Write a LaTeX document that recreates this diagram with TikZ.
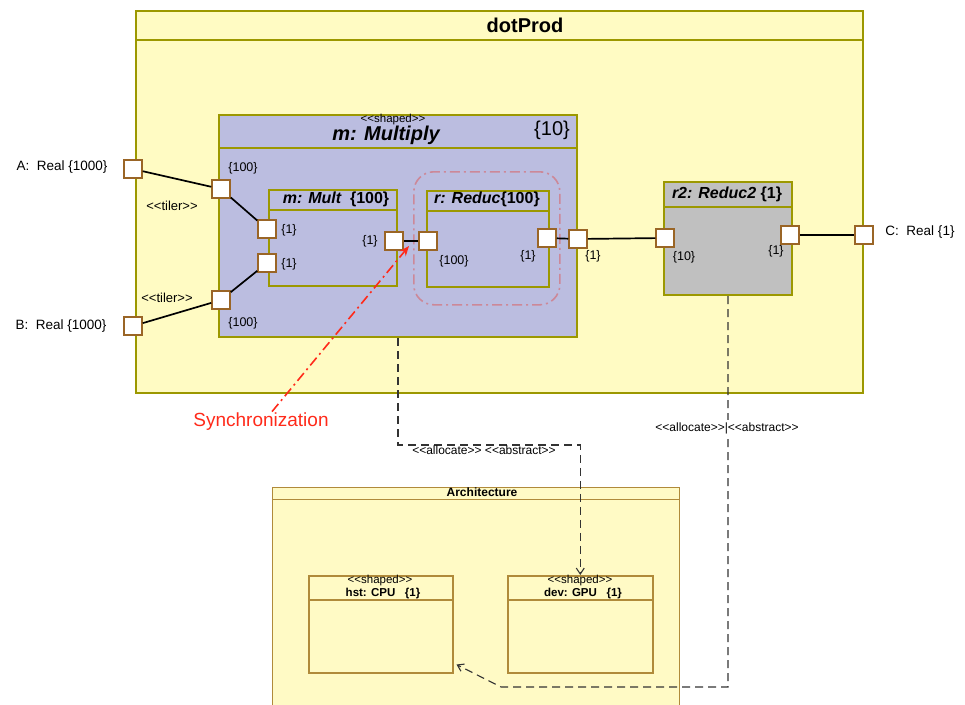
\documentclass[tikz,border=0pt]{standalone}
\usepackage{fontspec}
\setmainfont{Liberation Sans}
\usetikzlibrary{arrows.meta}

\definecolor{boxline}{HTML}{9C9800}
\definecolor{dotfill}{HTML}{FFFBC3}
\definecolor{mulfill}{HTML}{BBBDE0}
\definecolor{grayfill}{HTML}{C0C0C0}
\definecolor{portline}{HTML}{9A6526}
\definecolor{archline}{HTML}{B08A3A}
\definecolor{archfill}{HTML}{FFFAC5}
\definecolor{syncred}{HTML}{FF2A1A}
\definecolor{groupline}{HTML}{CC8898}

\newcommand{\stereo}[1]{<{}<#1>{}>}

\begin{document}
\begin{tikzpicture}[x=1pt, y=-1pt, >={Straight Barb[length=6pt,width=8pt]},
    part/.style={draw=boxline, line width=2pt, anchor=north west, inner sep=0pt},
    unit/.style={draw=archline, line width=1.2pt, fill=archfill, anchor=north west, inner sep=0pt},
    port/.style={draw=portline, fill=white, line width=2pt, minimum size=17.5pt, inner sep=0pt},
    wire/.style={line width=1.7pt},
    lbl/.style={inner sep=0pt, font=\fontsize{12.5}{14}\selectfont},
    alloc/.style={->, draw=black!80, dash pattern=on 8pt off 5pt, line width=1.1pt}]
    \useasboundingbox (0,0) rectangle (965,704);
    \clip (0,0) rectangle (965,704);

    % application
    \node[part, fill=dotfill, minimum width=727pt, minimum height=382pt] (dot) at (135,10) {};
    \node[part, fill=mulfill, minimum width=358pt, minimum height=222pt] (mul) at (218,114) {};
    \node[draw=groupline, line width=1.6pt, dash pattern=on 10pt off 4pt on 2pt off 4pt,
          rounded corners=20pt, anchor=north west, minimum width=146pt, minimum height=133pt] (grp) at (413,171) {};
    \node[part, minimum width=128pt, minimum height=96pt] (mult) at (268,189) {};
    \node[part, minimum width=122pt, minimum height=96pt] (red) at (426,190) {};
    \node[part, fill=grayfill, minimum width=128pt, minimum height=113pt] (red2) at (663,181) {};
    \foreach \b/\h in {dot/30, mul/34, mult/21, red/21, red2/26}
        \draw[boxline, line width=2pt] ([yshift=-\h pt]\b.north west) -- ([yshift=-\h pt]\b.north east);

    \node[font=\fontsize{20}{22}\selectfont\bfseries] (tdot) at (525,25) {dotProd};
    \node[lbl, font=\fontsize{11.5}{13}\selectfont] (tshm) at (393,119.5) {\stereo{shaped}};
    \node[font=\fontsize{20}{22}\selectfont\bfseries\itshape] (tmul) at (386,135) {m: Multiply};
    \node[font=\fontsize{20}{22}\selectfont] (tten) at (552,130) {\{10\}};
    \node[font=\fontsize{16}{18}\selectfont\bfseries\itshape] (tmult) at (336,199) {m: Mult~~\upshape\{100\}};
    \node[font=\fontsize{16}{18}\selectfont\bfseries\itshape] (tred) at (487,199) {r: Reduc\upshape\{100\}};
    \node[font=\fontsize{16}{18}\selectfont\bfseries\itshape] (tred2) at (727,194) {r2: Reduc2 \upshape\{1\}};

    % ports
    \node[port] (pA) at (133,169) {};
    \node[port] (pB) at (133,326) {};
    \node[port] (pM1) at (221,189) {};
    \node[port] (pM2) at (221,300) {};
    \node[port] (pI1) at (267,229) {};
    \node[port] (pI2) at (267,263) {};
    \node[port] (pMo) at (394,241) {};
    \node[port] (pRi) at (428,241) {};
    \node[port] (pRo) at (547,238) {};
    \node[port] (pMr) at (578,239) {};
    \node[port] (pQi) at (665,238) {};
    \node[port] (pQo) at (790,235) {};
    \node[port] (pC) at (864,235) {};

    \draw[wire] (pA) -- (pM1);
    \draw[wire] (pM1) -- (pI1);
    \draw[wire] (pB) -- (pM2);
    \draw[wire] (pM2) -- (pI2);
    \draw[wire] (pMo) -- (pRi);
    \draw[wire] (pRo) -- (pMr);
    \draw[wire] (pMr) -- (pQi);
    \draw[wire] (pQo) -- (pC);

    \node[lbl, font=\fontsize{13.5}{15}\selectfont] (tA) at (62,167) {A:~~Real \{1000\}};
    \node[lbl, font=\fontsize{13.5}{15}\selectfont] (tB) at (61,326) {B:~~Real \{1000\}};
    \node[lbl, font=\fontsize{13.5}{15}\selectfont] (tC) at (920,232) {C:~~Real \{1\}};
    \node[lbl, font=\fontsize{13}{15}\selectfont] (ttil1) at (172,206) {\stereo{tiler}};
    \node[lbl, font=\fontsize{13}{15}\selectfont] (ttil2) at (167,298) {\stereo{tiler}};
    \node[lbl] (m1) at (243,168) {\{100\}};
    \node[lbl] (m2) at (243,323) {\{100\}};
    \node[lbl] (i1) at (289,230) {\{1\}};
    \node[lbl] (i2) at (289,264) {\{1\}};
    \node[lbl] (o1) at (370,241) {\{1\}};
    \node[lbl] (r1) at (454,261) {\{100\}};
    \node[lbl] (r2) at (528,256) {\{1\}};
    \node[lbl] (r3) at (593,256) {\{1\}};
    \node[lbl] (q1) at (684,257) {\{10\}};
    \node[lbl] (q2) at (776,251) {\{1\}};

    % synchronization
    \coordinate (sync) at (409,246);
    \node[font=\fontsize{19}{21}\selectfont, text=syncred] (tsync) at (261,422) {Synchronization};
    \draw[syncred, line width=1.6pt, dash pattern=on 10pt off 4pt on 2pt off 4pt,
          -{Stealth[length=10pt,width=8pt]}] ([xshift=11pt,yshift=-2pt]tsync.north) -- (sync);

    % architecture
    \node[unit, minimum width=407pt, minimum height=240pt] (arch) at (272,487) {};
    \draw[archline, line width=1.2pt] ([yshift=-12.5pt]arch.north west) -- ([yshift=-12.5pt]arch.north east);
    \node[font=\fontsize{12}{14}\selectfont\bfseries] (tarch) at (482,492) {Architecture};
    \node[unit, line width=1.5pt, minimum width=144pt, minimum height=97pt] (cpu) at (308,575) {};
    \node[unit, line width=1.5pt, minimum width=145pt, minimum height=97pt] (gpu) at (507,575) {};
    \draw[archline, line width=1.5pt] ([yshift=-25pt]cpu.north west) -- ([yshift=-25pt]cpu.north east);
    \draw[archline, line width=1.5pt] ([yshift=-25pt]gpu.north west) -- ([yshift=-25pt]gpu.north east);
    \node[lbl, font=\fontsize{11.5}{13}\selectfont] (tshc) at (380,581) {\stereo{shaped}};
    \node[lbl, font=\fontsize{11.5}{13}\selectfont\bfseries] (tcpu) at (383,594) {hst: CPU~~~\{1\}};
    \node[lbl, font=\fontsize{11.5}{13}\selectfont] (tshg) at (580,581) {\stereo{shaped}};
    \node[lbl, font=\fontsize{11.5}{13}\selectfont\bfseries] (tgpu) at (583,594) {dev: GPU~~~\{1\}};

    % allocations
    \draw[alloc] (mul.south) -- ++(0,107) -| (gpu.north);
    \node[lbl, font=\fontsize{12}{14}\selectfont] (tal1) at (484,450) {\stereo{allocate} \stereo{abstract}};
    \draw[alloc] (red2.south) -- ++(0,391) -- ++(-227,0) -- ([xshift=3pt,yshift=9pt]cpu.south east);
    \node[lbl, font=\fontsize{12}{14}\selectfont, fill=white, inner sep=2pt] (tal2) at (727,428) {\stereo{allocate}|\stereo{abstract}};
\end{tikzpicture}
\end{document}
